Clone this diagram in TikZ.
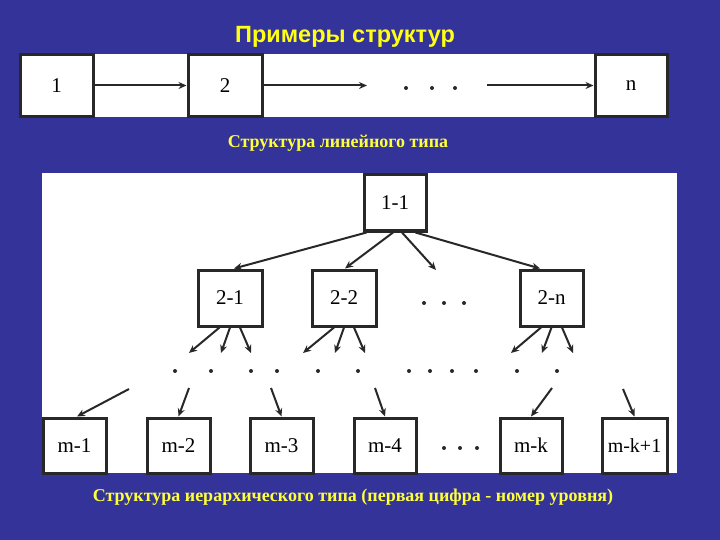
\documentclass[tikz,border=0pt]{standalone}
\usepackage{fontspec}
\setmainfont{Liberation Serif}
\newfontfamily\titlefont{Liberation Sans}
\usetikzlibrary{arrows.meta}
\definecolor{bg}{RGB}{51,51,153}
\definecolor{ttl}{RGB}{255,255,20}
\definecolor{capt}{RGB}{255,255,60}
\definecolor{ink}{RGB}{40,40,40}
\begin{document}
\begin{tikzpicture}[x=1pt,y=-1pt,
  box/.style={draw=ink, line width=3pt, fill=white, inner sep=0pt, font=\fontsize{21}{21}\selectfont},
  arr/.style={line width=2pt, draw=ink, -{Stealth[length=8pt,width=7pt]}},
  dotn/.style={circle, fill=ink, inner sep=0pt, minimum size=4pt},
  capfont/.style={text=capt, font=\bfseries\fontsize{18}{18}\selectfont}]
\fill[bg] (0,0) rectangle (720,540);
\useasboundingbox (0,0) rectangle (720,540);
% title
\node[text=ttl, font=\titlefont\bfseries\fontsize{23.5}{23.5}\selectfont] (title) at (345,37) {Примеры структур};
% linear structure
\fill[white] (20,54) rectangle (668,117);
\node[box, minimum width=73, minimum height=62] (b1) at (56.5,85.5) {1};
\node[box, minimum width=74, minimum height=62] (b2) at (225,85.5) {2};
\node[box, minimum width=72, minimum height=62] (bn) at (631,85.5) {n};
\coordinate (a2end) at (367,85.5);
\coordinate (a3start) at (487,85.5);
\node[dotn] (ld1) at (406,88) {};
\node[dotn] (ld2) at (432,88) {};
\node[dotn] (ld3) at (455,88) {};
\draw[arr] (b1.east) -- (b2.west);
\draw[arr] (b2.east) -- (a2end);
\draw[arr] (a3start) -- (bn.west);
\node[capfont] (cap1) at (338,143) {Структура линейного типа};
% hierarchical structure
\fill[white] (42,173) rectangle (677,473);
\node[box, minimum width=62, minimum height=56] (n11) at (395,203) {1-1};
\node[box, minimum width=64, minimum height=56] (n21) at (230,298) {2-1};
\node[box, minimum width=64, minimum height=56] (n22) at (344,298) {2-2};
\node[box, minimum width=63, minimum height=56] (n2n) at (551.5,298) {2-n};
\node[dotn] (md1) at (424,303) {};
\node[dotn] (md2) at (444,303) {};
\node[dotn] (md3) at (464,303) {};
\coordinate (l1free) at (436,270);
\draw[arr] ([xshift=-28.5pt]n11.south) -- ([xshift=4pt]n21.north);
\draw[arr] ([xshift=-2pt]n11.south) -- ([xshift=1pt]n22.north);
\draw[arr] ([xshift=7pt]n11.south) -- (l1free);
\draw[arr] ([xshift=20.5pt]n11.south) -- ([xshift=-11.5pt]n2n.north);
% level-2 outgoing arrows
\coordinate (e11) at (189,353); \coordinate (e12) at (221,353); \coordinate (e13) at (251,353);
\coordinate (e21) at (303,353); \coordinate (e22) at (335,353); \coordinate (e23) at (365,353);
\coordinate (e31) at (511,353); \coordinate (e32) at (542,353); \coordinate (e33) at (573,353);
\draw[arr] ([xshift=-10.5pt]n21.south) -- (e11);
\draw[arr] (n21.south) -- (e12);
\draw[arr] ([xshift=10pt]n21.south) -- (e13);
\draw[arr] ([xshift=-10pt]n22.south) -- (e21);
\draw[arr] (n22.south) -- (e22);
\draw[arr] ([xshift=10pt]n22.south) -- (e23);
\draw[arr] ([xshift=-10.5pt]n2n.south) -- (e31);
\draw[arr] (n2n.south) -- (e32);
\draw[arr] ([xshift=10.5pt]n2n.south) -- (e33);
% dots row
\foreach \x [count=\i] in {175,211,251,277,318,358,409,430,452,476,517,557}
  \node[dotn] (rd\i) at (\x,371) {};
% bottom level
\node[box, minimum width=63, minimum height=55] (m1) at (74.5,445.5) {m-1};
\node[box, minimum width=63, minimum height=55] (m2) at (178.5,445.5) {m-2};
\node[box, minimum width=63, minimum height=55] (m3) at (281.5,445.5) {m-3};
\node[box, minimum width=62, minimum height=55] (m4) at (385,445.5) {m-4};
\node[box, minimum width=62, minimum height=55] (mk) at (531,445.5) {m-k};
\node[box, minimum width=65, minimum height=55, font=\fontsize{20}{20}\selectfont] (mk1) at (634.5,445.5) {m-k+1};
\node[dotn] (bd1) at (444,448) {};
\node[dotn] (bd2) at (460,448) {};
\node[dotn] (bd3) at (477,448) {};
\coordinate (s1) at (129,389);
\coordinate (s2) at (189,388);
\coordinate (s3) at (271,388);
\coordinate (s4) at (375,388);
\coordinate (s5) at (552,388);
\coordinate (s6) at (623,389);
\draw[arr] (s1) -- ([xshift=2.5pt]m1.north);
\draw[arr] (s2) -- (m2.north);
\draw[arr] (s3) -- (m3.north);
\draw[arr] (s4) -- (m4.north);
\draw[arr] (s5) -- (mk.north);
\draw[arr] (s6) -- (mk1.north);
\node[capfont] (cap2) at (353,497) {Структура иерархического типа (первая цифра - номер уровня)};
\end{tikzpicture}
\end{document}
